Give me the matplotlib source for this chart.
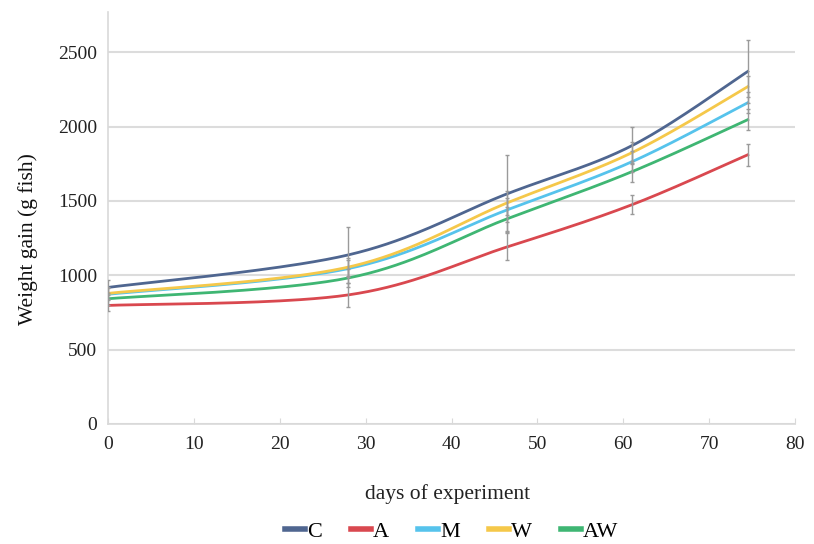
import numpy as np
import matplotlib
matplotlib.use('Agg')
from matplotlib import pyplot as plt

plt.rcParams['font.family'] = ['Liberation Serif', 'DejaVu Serif']

# 试验天数与各组增重
days = [0, 28, 46.5, 61, 74.5]
series_names = ['C', 'A', 'M', 'W', 'AW']
C = [918, 1137, 1548, 1871, 2370]
A = [797, 868, 1191, 1474, 1810]
M = [872, 1045, 1440, 1763, 2160]
W = [878, 1055, 1487, 1824, 2268]
AW = [842, 982, 1380, 1696, 2046]
err_C = [50, 190, 260, 125, 210]
err_A = [40, 80, 90, 65, 75]
err_M = [40, 60, 80, 70, 70]
err_W = [40, 60, 80, 70, 70]
err_AW = [40, 60, 80, 70, 70]
yticks = [0, 500, 1000, 1500, 2000, 2500]
xticks = [0, 10, 20, 30, 40, 50, 60, 70, 80]

colors = ['#4f6690', '#d9484f', '#56c3ec', '#f5c84a', '#3fb673']


def smooth(x, y, n=40):
    # Catmull-Rom 平滑曲线，类似 Excel 的平滑线
    p = np.column_stack([x, y]).astype(float)
    p = np.vstack([p[0], p, p[-1]])
    out = []
    for i in range(1, len(p) - 2):
        p0, p1, p2, p3 = p[i - 1], p[i], p[i + 1], p[i + 2]
        t = np.linspace(0, 1, n)[:, None]
        seg = 0.5 * ((2 * p1) + (-p0 + p2) * t + (2 * p0 - 5 * p1 + 4 * p2 - p3) * t ** 2
                     + (-p0 + 3 * p1 - 3 * p2 + p3) * t ** 3)
        out.append(seg)
    out = np.vstack(out)
    return out[:, 0], out[:, 1]


fig = plt.figure(figsize=(8.14, 5.44), dpi=100)
ax = fig.add_axes([0.1327, 0.2206, 0.8440, 0.7574])

data = [C, A, M, W, AW]
errs = [err_C, err_A, err_M, err_W, err_AW]
for vals, e in zip(data, errs):
    ax.errorbar(days, vals, yerr=e, fmt='none', ecolor='#9a9a9a', elinewidth=1,
                capsize=1.5, capthick=1, zorder=3)
for name, vals, c in zip(series_names, data, colors):
    sx, sy = smooth(days, vals)
    ax.plot(sx, sy, color=c, lw=2.0, label=name, zorder=2)

ax.set_xlim(0, 80)
ax.set_ylim(0, 2770)
ax.set_yticks(yticks)
ax.set_xticks(xticks)
ax.grid(axis='y', color='#dcdcdc', lw=1.5)
ax.set_axisbelow(True)
for s in ['top', 'right']:
    ax.spines[s].set_visible(False)
ax.spines['left'].set_color('#d9d9d9')
ax.spines['bottom'].set_color('#d9d9d9')
ax.spines['left'].set_linewidth(1.2)
ax.spines['bottom'].set_linewidth(1.2)
ax.tick_params(axis='y', length=0, pad=8, labelsize=14, labelcolor='#222222')
ax.tick_params(axis='x', length=4, color='#d9d9d9', direction='in', pad=9,
               labelsize=14, labelcolor='#222222')

fig.text(0.035, 0.56, 'Weight gain (g fish)', rotation=90, ha='center', va='center',
         fontsize=15.5, color='#111111')
fig.text(0.55, 0.092, 'days of experiment', ha='center', va='center', fontsize=15.5,
         color='#222222')
leg = ax.legend(loc='center', bbox_to_anchor=(0.5, -0.262), ncol=5, frameon=False,
                fontsize=16, handlelength=0.9, handletextpad=0.1, columnspacing=1.3,
                borderaxespad=0, borderpad=0)
for ln in leg.get_lines():
    ln.set_linewidth(4)

plt.savefig('out.png', dpi=100)
